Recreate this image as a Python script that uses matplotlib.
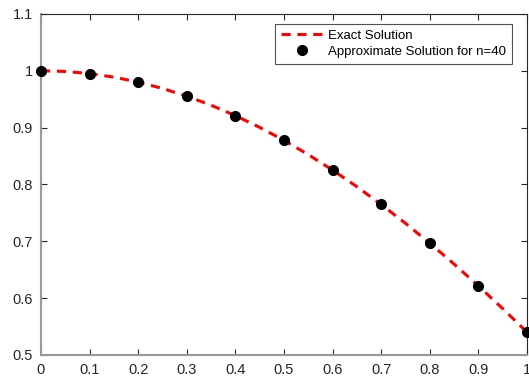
import matplotlib
matplotlib.use('Agg')
import matplotlib.pyplot as plt

# exact solution, sampled finely for the dashed curve
x_exact = [0, 0.05, 0.1, 0.15, 0.2, 0.25, 0.3, 0.35, 0.4, 0.45, 0.5,
           0.55, 0.6, 0.65, 0.7, 0.75, 0.8, 0.85, 0.9, 0.95, 1.0]
y_exact = [1.0, 0.9988, 0.9950, 0.9888, 0.9801, 0.9689, 0.9553, 0.9394, 0.9211, 0.9004, 0.8776,
           0.8525, 0.8253, 0.7961, 0.7648, 0.7317, 0.6967, 0.6600, 0.6216, 0.5817, 0.5403]

# approximate solution for n=40
x_approx = [0, 0.1, 0.2, 0.3, 0.4, 0.5, 0.6, 0.7, 0.8, 0.9, 1.0]
y_approx = [1.0, 0.995, 0.980, 0.955, 0.921, 0.878, 0.825, 0.765, 0.697, 0.622, 0.540]

xticks = [0, 0.1, 0.2, 0.3, 0.4, 0.5, 0.6, 0.7, 0.8, 0.9, 1]
xlabels = ['0', '0.1', '0.2', '0.3', '0.4', '0.5', '0.6', '0.7', '0.8', '0.9', '1']
yticks = [0.5, 0.6, 0.7, 0.8, 0.9, 1.0, 1.1]
ylabels = ['0.5', '0.6', '0.7', '0.8', '0.9', '1', '1.1']

plt.rcParams['font.family'] = ['Liberation Sans', 'DejaVu Sans']

fig = plt.figure(figsize=(5.29, 3.76), dpi=100)
ax = fig.add_axes([0.0775, 0.056, 0.9185, 0.907])

ax.plot(x_exact, y_exact, '--', color='red', linewidth=2.2, dashes=(3, 2.2),
        label='Exact Solution')
ax.plot(x_approx, y_approx, 'o', color='black', markersize=7,
        label='Approximate Solution for n=40', clip_on=False, zorder=5)

ax.set_xlim(0, 1)
ax.set_ylim(0.5, 1.1)
ax.set_xticks(xticks)
ax.set_xticklabels(xlabels)
ax.set_yticks(yticks)
ax.set_yticklabels(ylabels)
ax.tick_params(direction='in', top=True, right=True, length=4, width=0.8,
               labelsize=10.5, colors='#262626', pad=6)
for s in ax.spines.values():
    s.set_color('#262626')
    s.set_linewidth(0.8)
ax.spines['left'].set_color('#999999')
ax.spines['bottom'].set_color('#999999')
ax.spines['left'].set_linewidth(1.5)
ax.spines['bottom'].set_linewidth(1.5)

leg = ax.legend(loc='upper right', fontsize=9.5, frameon=True, fancybox=False,
                edgecolor='#262626', bbox_to_anchor=(0.983, 0.99), handlelength=3.3,
                labelspacing=0.25, borderpad=0.45, handletextpad=0.3)
leg.get_frame().set_linewidth(0.8)

fig.savefig('out.png', dpi=100)
